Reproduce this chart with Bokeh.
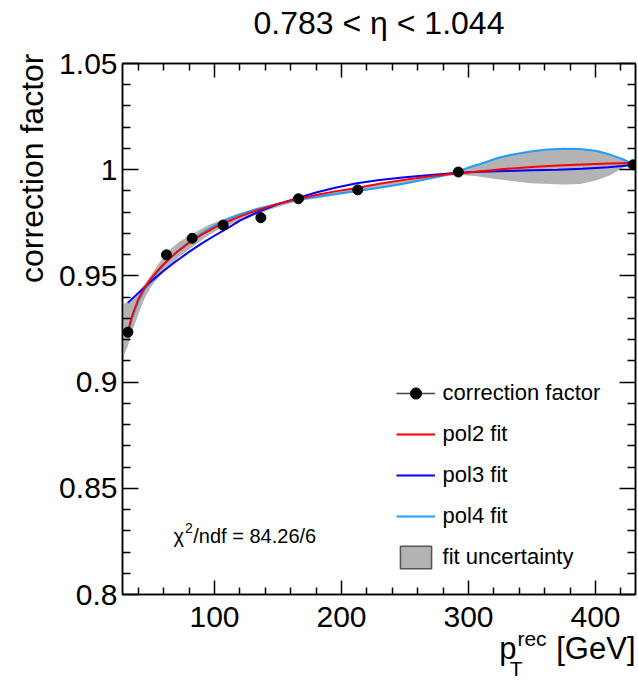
from bokeh.plotting import figure
from bokeh.models import (Label, Legend, LegendItem, LinearAxis, Title,
                          FixedTicker, Range1d, CustomJSTickFormatter)
from bokeh.embed import file_html
from bokeh.resources import INLINE

# ---------------- data ----------------
title_text = "0.783 < \u03b7 < 1.044"
y_title = "correction factor"

pt_points = [31.8, 62.2, 82.4, 106.8, 136.5, 166.1, 212.8, 292.0, 429.7]
cf_points = [0.9235, 0.9599, 0.9677, 0.9739, 0.9774, 0.9863, 0.9905, 0.9989, 1.0023]

pol2_pt = [31.8, 35, 40, 45, 50, 55, 60, 65, 70, 80, 90, 100, 110, 120, 135, 150, 165, 180, 195,
           212, 230, 250, 270, 290, 310, 330, 350, 370, 390, 410, 429.7]
pol2_val = [0.9238, 0.9310, 0.9390, 0.9445, 0.9487, 0.9523, 0.9555, 0.9584, 0.9610, 0.9656, 0.9694,
            0.9727, 0.9755, 0.9780, 0.9812, 0.9839, 0.9862, 0.9881, 0.9898, 0.9914, 0.9934, 0.9953,
            0.9969, 0.9982, 0.9993, 1.0004, 1.0013, 1.0020, 1.0025, 1.0029, 1.0032]

pol3_pt = [31.7, 40, 50, 60, 70, 80, 90, 100, 110, 120, 135, 150, 165, 180, 195, 212, 230, 250,
           270, 290, 310, 330, 350, 370, 390, 410, 429.7]
pol3_val = [0.9373, 0.9420, 0.9474, 0.9524, 0.9570, 0.9613, 0.9653, 0.9689, 0.9724, 0.9760, 0.9803,
            0.9838, 0.9866, 0.9893, 0.9915, 0.9936, 0.9951, 0.9964, 0.9975, 0.9984, 0.9990, 0.9994,
            0.9997, 1.0000, 1.0004, 1.0011, 1.0022]

pol4_pt = [31.8, 35, 40, 45, 50, 55, 60, 65, 70, 80, 90, 100, 110, 120, 135, 150, 165, 180, 195,
           212, 230, 250, 270, 280, 291, 300, 310, 323, 335, 349, 362, 375, 388, 401, 412, 422, 429.7]
pol4_val = [0.9222, 0.9300, 0.9380, 0.9437, 0.9480, 0.9518, 0.9552, 0.9583, 0.9612, 0.9660, 0.9702,
            0.9737, 0.9767, 0.9791, 0.9818, 0.9838, 0.9858, 0.9872, 0.9886, 0.9900, 0.9915, 0.9935,
            0.9960, 0.9972, 0.9992, 1.0010, 1.0028, 1.0055, 1.0072, 1.0086, 1.0095, 1.0099, 1.0098,
            1.0088, 1.0070, 1.0048, 1.0025]

band_pt = [27.6, 31.8, 35, 40, 45, 50.6, 57, 63.8, 72, 82, 95, 106, 127, 145, 165, 190, 212, 240,
           270, 291, 305, 323, 349, 375, 388, 401, 412, 422, 429.7]
band_lo = [0.9110, 0.9170, 0.9235, 0.9320, 0.9395, 0.9454, 0.9500, 0.9540, 0.9590, 0.9634, 0.9690,
           0.9728, 0.9774, 0.9815, 0.9852, 0.9874, 0.9895, 0.9925, 0.9958, 0.9976, 0.9970, 0.9955,
           0.9936, 0.9930, 0.9933, 0.9950, 0.9975, 1.0010, 1.0025]
band_hi = [0.9365, 0.9378, 0.9390, 0.9420, 0.9462, 0.9509, 0.9565, 0.9618, 0.9660, 0.9696, 0.9738,
           0.9766, 0.9808, 0.9838, 0.9866, 0.9888, 0.9914, 0.9938, 0.9966, 0.9993, 1.0018, 1.0055,
           1.0086, 1.0099, 1.0098, 1.0088, 1.0070, 1.0048, 1.0025]

chi2_text = "/ndf = 84.26/6"
legend_labels = ["correction factor", "pol2 fit", "pol3 fit", "pol4 fit", "fit uncertainty"]

x_major = [100, 200, 300, 400]
x_minor = [40, 60, 80, 120, 140, 160, 180, 220, 240, 260, 280, 320, 340, 360, 380, 420]
y_major = [0.8, 0.85, 0.9, 0.95, 1.0, 1.05]
y_minor = [round(0.80 + i * 0.01, 2) for i in range(26) if i % 5 != 0]

X_LO, X_HI = 27.56, 431.5
# text pieces placed along x (title centred over the frame; x title p_T^{rec} [GeV])
title_at = [(X_LO + X_HI) / 2]
xt_main_text = ["p", "[GeV]"]
xt_main_at = [331.1, 400.3]
xt_sup_text = ["rec"]
xt_sup_at = [350.0]
xt_sub_text = ["T"]
xt_sub_at = [337.6]

FONT = "Liberation Sans"
RED = "#ff0000"
BLUE = "#0000ff"
CYAN = "#1f9eff"
GREY = "#b3b3b3"

# ---------------- figure ----------------
p = figure(width=638, height=682, output_backend="svg", toolbar_location=None,
           x_range=Range1d(X_LO, X_HI), y_range=Range1d(0.8, 1.05),
           min_border_left=122, min_border_right=3, min_border_top=63, min_border_bottom=85,
           title=None)
p.xgrid.visible = False
p.ygrid.visible = False
p.outline_line_color = "black"
p.outline_line_width = 1.5
p.background_fill_color = "white"
p.border_fill_color = "white"

BLANK = CustomJSTickFormatter(code="return '';")

def style_axis(ax, major, minor, tin, tmin):
    ax.ticker = FixedTicker(ticks=major, minor_ticks=minor)
    ax.major_tick_in = tin
    ax.major_tick_out = 0
    ax.minor_tick_in = tmin
    ax.minor_tick_out = 0
    ax.axis_line_color = "black"
    ax.axis_line_width = 1.5
    ax.major_tick_line_color = "black"
    ax.major_tick_line_width = 1.5
    ax.minor_tick_line_color = "black"
    ax.minor_tick_line_width = 1.5
    ax.major_label_text_font = FONT
    ax.major_label_text_color = "black"
    ax.major_label_text_font_size = "30px"

xb = p.xaxis[0]
style_axis(xb, x_major, x_minor, 14, 7)
xb.major_label_standoff = 12
yl = p.yaxis[0]
style_axis(yl, y_major, y_minor, 16, 8)
yl.major_label_standoff = 5
yl.formatter = CustomJSTickFormatter(code="return String(parseFloat(tick.toFixed(3)));")

xt = LinearAxis()
style_axis(xt, x_major, x_minor, 14, 7)
xt.formatter = BLANK
xt.major_label_text_font_size = "6px"
xt.major_label_standoff = 0
p.add_layout(xt, "above")
yr = LinearAxis()
style_axis(yr, y_major, y_minor, 16, 8)
yr.formatter = BLANK
yr.major_label_text_font_size = "6px"
yr.major_label_standoff = 0
p.add_layout(yr, "right")

# y-axis title (rotated, right-aligned at the top of the frame)
ytitle = Title(text=y_title, align="right", vertical_align="bottom", text_font=FONT,
               text_font_size="32px", text_font_style="normal", text_color="black",
               standoff=14, offset=-10)
p.add_layout(ytitle, "left")

# text pieces as extra, line-less axes stacked outside the frame
def text_axis(ticks, texts, size, standoff):
    ax = LinearAxis(ticker=FixedTicker(ticks=ticks, minor_ticks=[]),
                    formatter=CustomJSTickFormatter(args=dict(labels=texts), code="return labels[index];"))
    ax.axis_line_color = None
    ax.major_tick_line_color = None
    ax.minor_tick_line_color = None
    ax.major_tick_in = 0
    ax.major_tick_out = 0
    ax.minor_tick_in = 0
    ax.minor_tick_out = 0
    ax.major_label_text_font = FONT
    ax.major_label_text_font_size = size
    ax.major_label_text_color = "black"
    ax.major_label_standoff = standoff
    return ax

p.add_layout(text_axis(title_at, [title_text], "32px", 23), "above")
p.add_layout(text_axis(xt_sup_at, xt_sup_text, "21px", -3), "below")
p.add_layout(text_axis(xt_main_at, xt_main_text, "31px", -22), "below")
p.add_layout(text_axis(xt_sub_at, xt_sub_text, "21px", -12), "below")

# ---------------- data marks ----------------
p.varea(x=band_pt, y1=band_lo, y2=band_hi, fill_color=GREY, fill_alpha=1.0)
r4 = p.line(pol4_pt, pol4_val, line_color=CYAN, line_width=2)
r3 = p.line(pol3_pt, pol3_val, line_color=BLUE, line_width=2)
r2 = p.line(pol2_pt, pol2_val, line_color=RED, line_width=2)
rpts = p.scatter(pt_points, cf_points, size=10, marker="circle", fill_color="black", line_color="black")

# legend-only glyphs (hidden in the plot)
leg_line = p.line(pt_points, cf_points, line_color="#444444", line_width=1.5, visible=False)
leg_box = p.quad(left=band_pt[:-1], right=band_pt[1:], bottom=band_lo[:-1], top=band_hi[:-1],
                 fill_color=GREY, line_color="#555555", line_width=1.5, visible=False)

legend = Legend(items=[
    LegendItem(label=legend_labels[0], renderers=[leg_line, rpts]),
    LegendItem(label=legend_labels[1], renderers=[r2]),
    LegendItem(label=legend_labels[2], renderers=[r3]),
    LegendItem(label=legend_labels[3], renderers=[r4]),
    LegendItem(label=legend_labels[4], renderers=[leg_box]),
], location=(273.6, 23.5), orientation="vertical",
    glyph_width=39, glyph_height=28, label_standoff=8, spacing=13,
    padding=0, margin=0, border_line_alpha=0, background_fill_alpha=0,
    inactive_fill_alpha=0,
    label_text_font=FONT, label_text_font_size="22px", label_text_color="black")
p.add_layout(legend)

# chi2 text inside the frame (screen offsets from the frame's bottom-left)
def lab(text, sx, sy, size):
    return Label(x=sx, y=sy, x_units="screen", y_units="screen", text=text,
                 text_font=FONT, text_font_size=size, text_color="black",
                 text_align="left", text_baseline="alphabetic")

p.add_layout(lab("\u03c7", 51, 59, "20px"))
p.add_layout(lab("2", 62.5, 66.5, "14px"))
p.add_layout(lab(chi2_text, 70.8, 59, "20px"))

open("out.html", "w").write(file_html(p, INLINE))
